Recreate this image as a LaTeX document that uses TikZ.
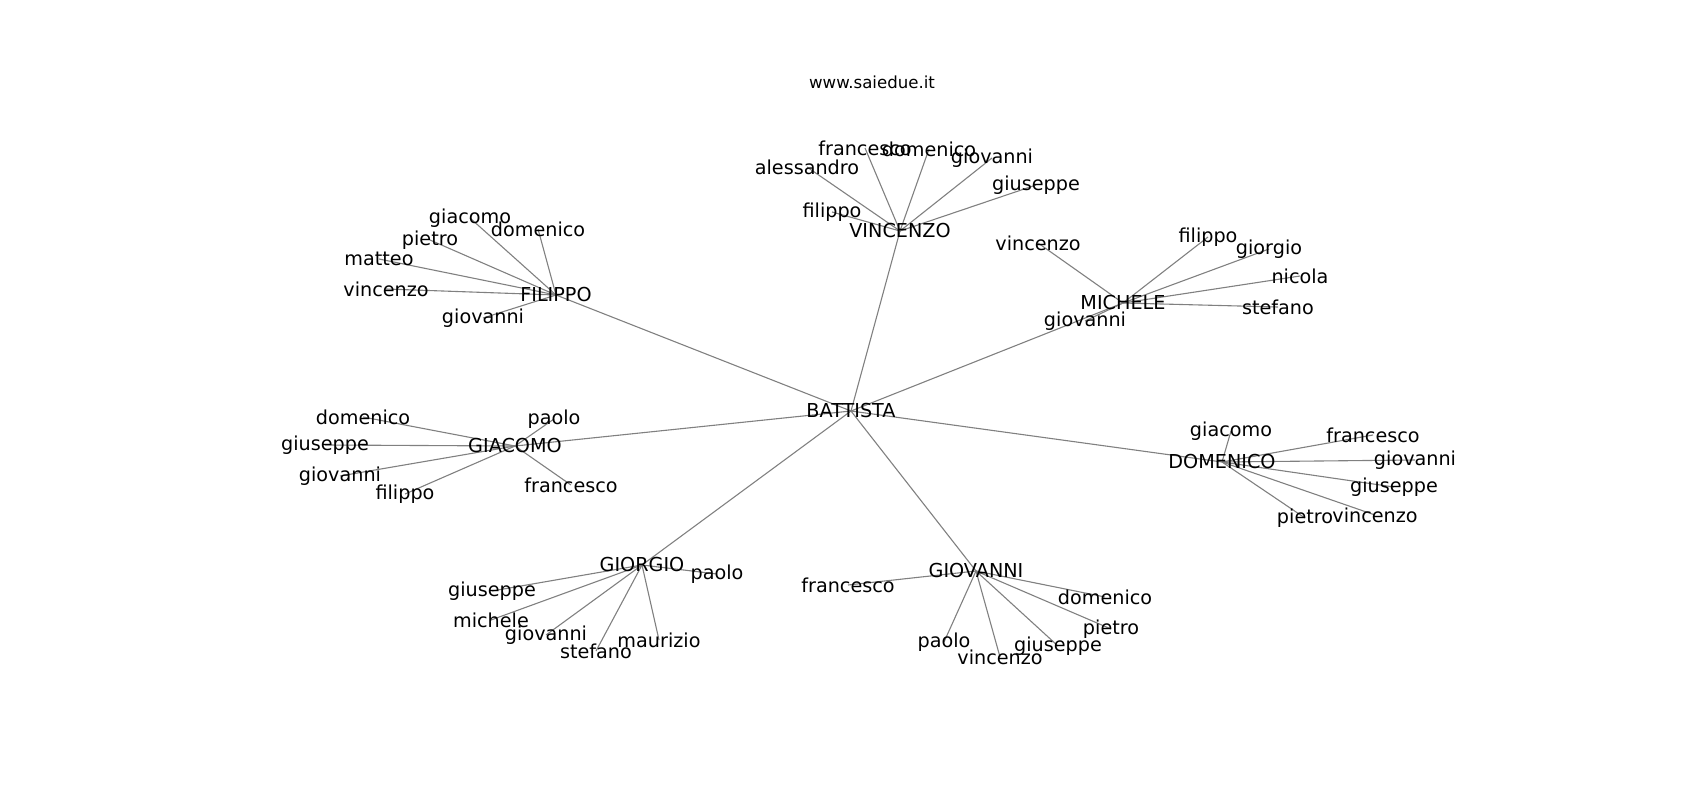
\documentclass[tikz,border=0pt]{standalone}
\usepackage{fontspec}
\setmainfont{DejaVu Sans}
\usetikzlibrary{backgrounds}
\begin{document}
\begin{tikzpicture}[x=1bp,y=-1bp,
                lbl/.style={inner sep=0pt,font=\fontsize{19.2bp}{23bp}\selectfont},
                edge/.style={draw=gray,line width=1.1bp}]
                \useasboundingbox (0,0) rectangle (1700,800);
                \node[inner sep=0pt,font=\fontsize{16.6bp}{20bp}\selectfont] (title) at (872,82) {www.saiedue.it};
                \node[lbl] (battista) at (851,411) {BATTISTA};
                % VINCENZO
                \node[lbl] (vincenzo) at (900,231) {VINCENZO};
                \node[lbl] (vinfrancesco) at (865,148) {francesco};
                \node[lbl] (vindomenico) at (929,149) {domenico};
                \node[lbl] (vinalessandro) at (807,167) {alessandro};
                \node[lbl] (vingiovanni) at (992,158) {giovanni};
                \node[lbl] (vingiuseppe) at (1036,185) {giuseppe};
                \node[lbl] (vinfilippo) at (832,212) {filippo};
                % FILIPPO
                \node[lbl] (filippo) at (556,295) {FILIPPO};
                \node[lbl] (filgiacomo) at (470,218) {giacomo};
                \node[lbl] (fildomenico) at (538,229) {domenico};
                \node[lbl] (filpietro) at (430,240) {pietro};
                \node[lbl] (filmatteo) at (379,259) {matteo};
                \node[lbl] (filvincenzo) at (386,289) {vincenzo};
                \node[lbl] (filgiovanni) at (483,318) {giovanni};
                % MICHELE
                \node[lbl] (michele) at (1123,303) {MICHELE};
                \node[lbl] (micvincenzo) at (1038,243) {vincenzo};
                \node[lbl] (micfilippo) at (1208,237) {filippo};
                \node[lbl] (micgiorgio) at (1269,249) {giorgio};
                \node[lbl] (micnicola) at (1300,276) {nicola};
                \node[lbl] (micstefano) at (1278,307) {stefano};
                \node[lbl] (micgiovanni) at (1085,321) {giovanni};
                % GIACOMO
                \node[lbl] (giacomo) at (515,446) {GIACOMO};
                \node[lbl] (giadomenico) at (363,417) {domenico};
                \node[lbl] (giapaolo) at (554,419) {paolo};
                \node[lbl] (giagiuseppe) at (325,445) {giuseppe};
                \node[lbl] (giagiovanni) at (340,476) {giovanni};
                \node[lbl] (giafilippo) at (405,494) {filippo};
                \node[lbl] (giafrancesco) at (571,485) {francesco};
                % DOMENICO
                \node[lbl] (domenico) at (1222,462) {DOMENICO};
                \node[lbl] (domgiacomo) at (1231,431) {giacomo};
                \node[lbl] (domfrancesco) at (1373,435) {francesco};
                \node[lbl] (domgiovanni) at (1415,460) {giovanni};
                \node[lbl] (domgiuseppe) at (1394,487) {giuseppe};
                \node[lbl] (domvincenzo) at (1375,515) {vincenzo};
                \node[lbl] (dompietro) at (1305,518) {pietro};
                % GIORGIO
                \node[lbl] (giorgio) at (642,565) {GIORGIO};
                \node[lbl] (giopaolo) at (717,574) {paolo};
                \node[lbl] (giogiuseppe) at (492,591) {giuseppe};
                \node[lbl] (giomichele) at (491,620) {michele};
                \node[lbl] (giogiovanni) at (546,635) {giovanni};
                \node[lbl] (giostefano) at (596,651) {stefano};
                \node[lbl] (giomaurizio) at (659,640) {maurizio};
                % GIOVANNI
                \node[lbl] (giovanni) at (976,571) {GIOVANNI};
                \node[lbl] (giofrancesco) at (848,585) {francesco};
                \node[lbl] (giodomenico) at (1105,597) {domenico};
                \node[lbl] (giopietro) at (1111,629) {pietro};
                \node[lbl] (giogiuseppeb) at (1058,646) {giuseppe};
                \node[lbl] (giopaolob) at (944,642) {paolo};
                \node[lbl] (giovincenzo) at (1000,657) {vincenzo};
                \begin{scope}[on background layer]
                \draw[edge] (battista.center)--(vincenzo.center);
                \draw[edge] (battista.center)--(filippo.center);
                \draw[edge] (battista.center)--(michele.center);
                \draw[edge] (battista.center)--(giacomo.center);
                \draw[edge] (battista.center)--(domenico.center);
                \draw[edge] (battista.center)--(giorgio.center);
                \draw[edge] (battista.center)--(giovanni.center);
                \draw[edge] (vincenzo.center)--(vinfrancesco.center);
                \draw[edge] (vincenzo.center)--(vindomenico.center);
                \draw[edge] (vincenzo.center)--(vinalessandro.center);
                \draw[edge] (vincenzo.center)--(vingiovanni.center);
                \draw[edge] (vincenzo.center)--(vingiuseppe.center);
                \draw[edge] (vincenzo.center)--(vinfilippo.center);
                \draw[edge] (filippo.center)--(filgiacomo.center);
                \draw[edge] (filippo.center)--(fildomenico.center);
                \draw[edge] (filippo.center)--(filpietro.center);
                \draw[edge] (filippo.center)--(filmatteo.center);
                \draw[edge] (filippo.center)--(filvincenzo.center);
                \draw[edge] (filippo.center)--(filgiovanni.center);
                \draw[edge] (michele.center)--(micvincenzo.center);
                \draw[edge] (michele.center)--(micfilippo.center);
                \draw[edge] (michele.center)--(micgiorgio.center);
                \draw[edge] (michele.center)--(micnicola.center);
                \draw[edge] (michele.center)--(micstefano.center);
                \draw[edge] (michele.center)--(micgiovanni.center);
                \draw[edge] (giacomo.center)--(giadomenico.center);
                \draw[edge] (giacomo.center)--(giapaolo.center);
                \draw[edge] (giacomo.center)--(giagiuseppe.center);
                \draw[edge] (giacomo.center)--(giagiovanni.center);
                \draw[edge] (giacomo.center)--(giafilippo.center);
                \draw[edge] (giacomo.center)--(giafrancesco.center);
                \draw[edge] (domenico.center)--(domgiacomo.center);
                \draw[edge] (domenico.center)--(domfrancesco.center);
                \draw[edge] (domenico.center)--(domgiovanni.center);
                \draw[edge] (domenico.center)--(domgiuseppe.center);
                \draw[edge] (domenico.center)--(domvincenzo.center);
                \draw[edge] (domenico.center)--(dompietro.center);
                \draw[edge] (giorgio.center)--(giopaolo.center);
                \draw[edge] (giorgio.center)--(giogiuseppe.center);
                \draw[edge] (giorgio.center)--(giomichele.center);
                \draw[edge] (giorgio.center)--(giogiovanni.center);
                \draw[edge] (giorgio.center)--(giostefano.center);
                \draw[edge] (giorgio.center)--(giomaurizio.center);
                \draw[edge] (giovanni.center)--(giofrancesco.center);
                \draw[edge] (giovanni.center)--(giodomenico.center);
                \draw[edge] (giovanni.center)--(giopietro.center);
                \draw[edge] (giovanni.center)--(giogiuseppeb.center);
                \draw[edge] (giovanni.center)--(giopaolob.center);
                \draw[edge] (giovanni.center)--(giovincenzo.center);
                \end{scope}
\end{tikzpicture}
\end{document}
